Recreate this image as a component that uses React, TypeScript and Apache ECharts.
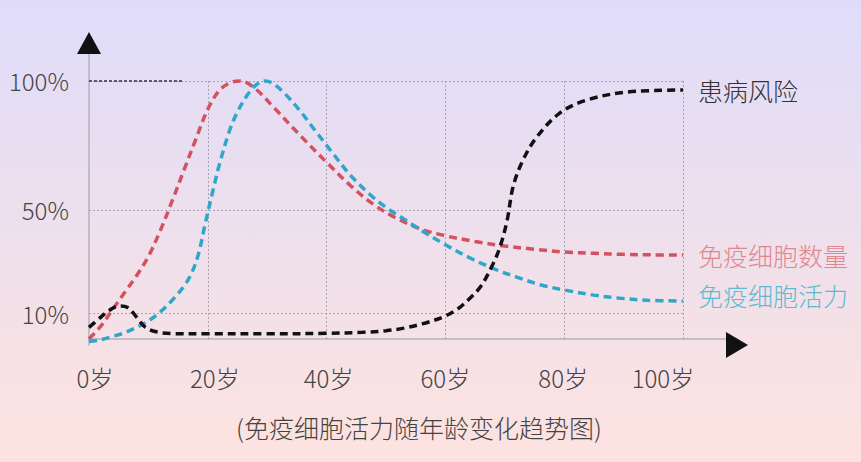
import { useEffect, useRef } from "react";
import * as echarts from "echarts";

// ---- data ----
const X_TICKS = [0, 20, 40, 60, 80, 100];
const Y_TICKS = [10, 50, 100];
const GRID_X = [20, 40, 60, 80, 100];
const GRID_Y = [10, 50, 100];

const SERIES_NAMES = ["免疫细胞数量", "免疫细胞活力", "患病风险"];
const CAPTION = "(免疫细胞活力随年龄变化趋势图)";

const COUNT_AGES = [0, 2, 4, 6, 8, 10, 12, 14, 16, 18, 20, 22, 24, 25.5, 28, 31, 35.5, 40, 44, 48, 52, 56, 60, 65, 70, 75, 80, 85, 90, 95, 100];
const COUNT_VALUES = [0, 5, 11.5, 18, 24.5, 32, 42, 53.5, 65.5, 77.5, 89, 96.5, 99.5, 100, 97, 90, 79, 68.5, 59.5, 52, 46.5, 42.5, 40, 37.8, 36, 34.8, 33.7, 33.2, 32.8, 32.6, 32.5];

const VITALITY_AGES = [0, 2, 4, 6, 8, 10, 12, 14, 16, 17.3, 18.5, 19.5, 20.9, 22, 23.7, 25, 26.5, 28, 29.6, 31, 33, 35.5, 38, 40.6, 44, 47.3, 50, 53, 56, 60, 64.5, 68.7, 72, 76, 80, 85, 89, 94, 100];
const VITALITY_VALUES = [-1, -0.3, 1, 2.4, 4.5, 7, 10.5, 15, 20.5, 25.6, 33.5, 44, 57.8, 68, 81, 88, 94, 98.2, 100, 99, 95, 88.5, 81, 73.3, 63.5, 56, 51, 46.5, 42, 36.5, 31, 26.7, 24, 21, 19, 17, 15.9, 15, 14.7];

const RISK_AGES = [0, 2, 3.5, 5, 6.5, 8, 9.5, 11.5, 14, 20, 30, 40, 46, 50, 53, 56, 59.6, 62, 64, 66, 68, 69.2, 70.4, 71.4, 73, 75.4, 79.3, 83.8, 90.6, 100];
const RISK_VALUES = [4.5, 8.5, 11.2, 12.8, 12.2, 8.5, 4.5, 2.7, 2.1, 2, 2, 2.2, 2.6, 3.2, 4.2, 5.8, 8.5, 11.5, 15.5, 20.5, 29, 35.7, 46, 59, 69, 78.3, 87.6, 92.6, 95.7, 96.5];

// ---- layout / style ----
const W = 861;
const H = 462;
const GRID_LEFT = 89;
const GRID_TOP = 43;
const GRID_RIGHT_PX = 737;
const GRID_BOTTOM_PX = 345;
const X_MIN = 0;
const X_MAX = 109.1;
const Y_MIN = -2.33;
const Y_MAX = 114.7;

const FONT = '"Noto Sans CJK SC", "Noto Sans", sans-serif';
const TEXT_COLOR = "#444";
const AXIS_COLOR = "#b4b1bd";
const GRID_COLOR = "#a6a3b2";
const COLORS = ["#d4525f", "#2ea7c9", "#111111"];
const LABEL_COLORS = ["#e0878e", "#5cbad3", "#333333"];
const LABEL_SHIFT: Record<number, number> = { 0: 6, 20: 7, 40: 2, 60: 0, 80: -1, 100: -20 };

const pairs = (xs: number[], ys: number[]) => xs.map((x, i) => [x, ys[i]]);

export default function App() {
  const ref = useRef<HTMLDivElement>(null);

  useEffect(() => {
    if (!ref.current) return;
    const chart = echarts.init(ref.current, undefined, { renderer: "svg" });

    const gridMarkLines: any[] = [];
    GRID_Y.forEach((v) =>
      gridMarkLines.push([{ coord: [0, v] }, { coord: [100, v] }])
    );
    GRID_X.forEach((v) =>
      gridMarkLines.push([{ coord: [v, 0] }, { coord: [v, 100] }])
    );

    const rich: Record<string, any> = {};
    X_TICKS.forEach((v) => {
      const s = LABEL_SHIFT[v] || 0;
      rich["t" + v] = {
        fontSize: 24,
        fontFamily: FONT,
        fontWeight: 300,
        color: TEXT_COLOR,
        padding: s >= 0 ? [0, 0, 0, 2 * s] : [0, -2 * s, 0, 0],
      };
    });

    const lineSeries = (idx: number, data: number[][], extra: any = {}) => ({
      type: "line",
      name: SERIES_NAMES[idx],
      data,
      smooth: 0.35,
      symbol: "none",
      silent: true,
      z: 3 + idx,
      lineStyle: {
        color: COLORS[idx],
        width: 3.5,
        type: [8, 5],
        cap: "butt",
      },
      endLabel: {
        show: true,
        formatter: "{a}",
        color: LABEL_COLORS[idx],
        fontSize: 25,
        fontFamily: FONT,
        fontWeight: 300,
        distance: 15,
        ...(extra.endLabel || {}),
      },
      ...(extra.rest || {}),
    });

    chart.setOption({
      animation: false,
      backgroundColor: new echarts.graphic.LinearGradient(0, 0, 0, 1, [
        { offset: 0, color: "#dfdcfa" },
        { offset: 1, color: "#fde3df" },
      ]),
      title: {
        text: CAPTION,
        left: 236,
        top: 414,
        padding: 0,
        textStyle: {
          fontSize: 25,
          fontFamily: FONT,
          fontWeight: 300,
          color: TEXT_COLOR,
        },
      },
      grid: {
        left: GRID_LEFT,
        top: GRID_TOP,
        right: W - GRID_RIGHT_PX,
        bottom: H - GRID_BOTTOM_PX,
        containLabel: false,
      },
      xAxis: {
        type: "value",
        min: X_MIN,
        max: X_MAX,
        axisLine: { show: true, lineStyle: { color: AXIS_COLOR, width: 1.5 } },
        axisTick: { show: false },
        splitLine: { show: false },
        axisLabel: {
          customValues: X_TICKS,
          margin: 20,
          formatter: (v: number) => `{t${v}|${v}岁}`,
          rich,
        },
      },
      yAxis: {
        type: "value",
        min: Y_MIN,
        max: Y_MAX,
        axisLine: { show: true, lineStyle: { color: AXIS_COLOR, width: 1.5 } },
        axisTick: { show: false },
        splitLine: { show: false },
        axisLabel: {
          customValues: Y_TICKS,
          margin: 20,
          formatter: (v: number) => `${v}%`,
          fontSize: 24,
          fontFamily: FONT,
          fontWeight: 300,
          color: TEXT_COLOR,
        },
      },
      graphic: [
        {
          type: "polygon",
          shape: {
            points: [
              [GRID_LEFT - 12, GRID_TOP + 11],
              [GRID_LEFT + 12, GRID_TOP + 11],
              [GRID_LEFT, GRID_TOP - 11],
            ],
          },
          style: { fill: "#111" },
          z: 100,
        },
        {
          type: "polygon",
          shape: {
            points: [
              [GRID_RIGHT_PX - 11, GRID_BOTTOM_PX - 13],
              [GRID_RIGHT_PX - 11, GRID_BOTTOM_PX + 13],
              [GRID_RIGHT_PX + 11, GRID_BOTTOM_PX],
            ],
          },
          style: { fill: "#111" },
          z: 100,
        },
      ],
      series: [
        lineSeries(0, pairs(COUNT_AGES, COUNT_VALUES), {
          rest: {
            markLine: {
              silent: true,
              symbol: ["none", "none"],
              label: { show: false },
              lineStyle: { color: GRID_COLOR, width: 1, type: [2, 2] },
              z: 1,
              data: [
                ...gridMarkLines,
                [
                  { coord: [0, 100], lineStyle: { color: "#333", width: 1.5, type: [3, 2] } },
                  { coord: [16, 100] },
                ],
              ],
            },
          },
        }),
        lineSeries(1, pairs(VITALITY_AGES, VITALITY_VALUES), {
          endLabel: { offset: [0, -6] },
        }),
        lineSeries(2, pairs(RISK_AGES, RISK_VALUES)),
      ],
    });

    return () => chart.dispose();
  }, []);

  return (
    <div
      ref={ref}
      style={{ position: "absolute", left: 0, top: 0, width: W, height: H }}
    />
  );
}
